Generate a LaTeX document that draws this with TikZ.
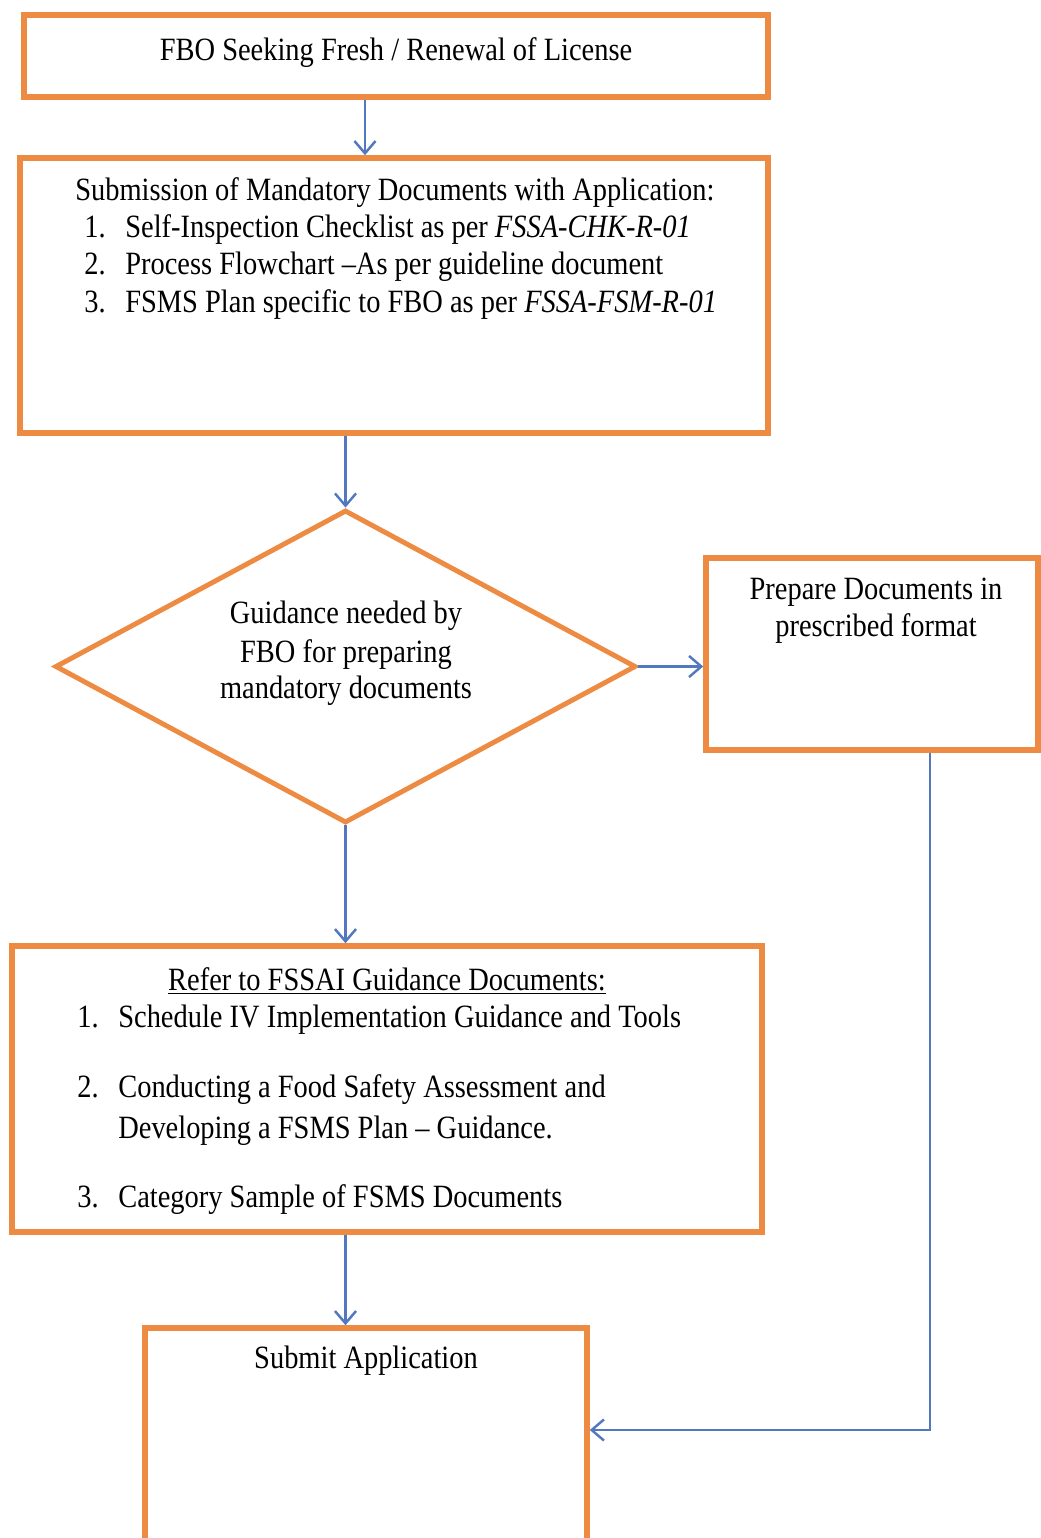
\documentclass[tikz,border=0pt]{standalone}
\usepackage{fontspec}
\setmainfont{Liberation Serif}[FakeStretch=0.875]
\usepackage{xcolor}
\usepackage{tikz}
\usetikzlibrary{arrows.meta, positioning, shapes.geometric}

\definecolor{boxorange}{HTML}{EE8B42}
\definecolor{flowblue}{HTML}{5279C0}

\begin{document}
\begin{tikzpicture}[x=0.02cm, y=-0.02cm,
  every node/.style={font=\fontsize{18.5}{21}\selectfont, inner sep=0pt},
  box/.style={draw=boxorange, line width=3.2pt, rectangle},
  decision/.style={draw=boxorange, line width=2.8pt, diamond},
  flow/.style={draw=flowblue, line width=1.4pt, -{Straight Barb[length=7pt, width=12pt]}}]
  \clip (0,0) rectangle (1041,1538);

  % boxes
  \node[box, minimum width=14.88cm, minimum height=1.64cm] (fbo) at (396,56) {};
  \node[box, minimum width=14.96cm, minimum height=5.5cm] (docs) at (394,295.5) {};
  \node[decision, minimum width=11.62cm, minimum height=6.26cm] (guide) at (345.5,666.5) {};
  \node[box, minimum width=6.64cm, minimum height=3.84cm] (prep) at (872,654) {};
  \node[box, minimum width=15cm, minimum height=5.72cm] (refer) at (387,1089) {};
  \node[box, minimum width=8.84cm, minimum height=4.34cm] (submit) at (366,1436.5) {};

  % texts
  \node[anchor=base] (fbotxt) at (396,60) {FBO Seeking Fresh / Renewal of License};

  \node[anchor=base west] (docshead) at (75,200) {Submission of Mandatory Documents with Application:};
  \node[anchor=base west] (docsa) at (84,237) {\makebox[0.82cm][l]{1.}Self-Inspection Checklist as per \textit{FSSA-CHK-R-01}};
  \node[anchor=base west] (docsb) at (84,274) {\makebox[0.82cm][l]{2.}Process Flowchart –As per guideline document};
  \node[anchor=base west] (docsc) at (84,312) {\makebox[0.82cm][l]{3.}FSMS Plan specific to FBO as per \textit{FSSA-FSM-R-01}};

  \node[anchor=base] (guidea) at (346,623) {Guidance needed by};
  \node[anchor=base] (guideb) at (346,662) {FBO for preparing};
  \node[anchor=base] (guidec) at (346,698) {mandatory documents};

  \node[anchor=base] (prepa) at (876,599) {Prepare Documents in};
  \node[anchor=base] (prepb) at (876,636) {prescribed format};

  \node[anchor=base] (referhead) at (387,990) {\underline{Refer to FSSAI Guidance Documents:}};
  \node[anchor=base west] (refera) at (77,1027) {\makebox[0.82cm][l]{1.}Schedule IV Implementation Guidance and Tools};
  \node[anchor=base west] (referb) at (77,1097) {\makebox[0.82cm][l]{2.}Conducting a Food Safety Assessment and};
  \node[anchor=base west] (referbb) at (118,1138) {Developing a FSMS Plan – Guidance.};
  \node[anchor=base west] (referc) at (77,1207) {\makebox[0.82cm][l]{3.}Category Sample of FSMS Documents};

  \node[anchor=base] (submittxt) at (366,1368) {Submit Application};

  % connectors
  \coordinate (firstx) at (365,0);
  \coordinate (turn) at (930,1430);
  \draw[flow] (fbo.south -| firstx) -- (docs.north -| firstx);
  \draw[flow] (docs.south -| guide.north) -- (guide.north);
  \draw[flow] (guide.east) -- (prep.west |- guide.east);
  \draw[flow] (guide.south) -- (refer.north -| guide.south);
  \draw[flow] (refer.south -| guide.south) -- (submit.north -| guide.south);
  \draw[flow] (prep.south -| turn) -- (turn) -- (submit.east |- turn);
\end{tikzpicture}
\end{document}
